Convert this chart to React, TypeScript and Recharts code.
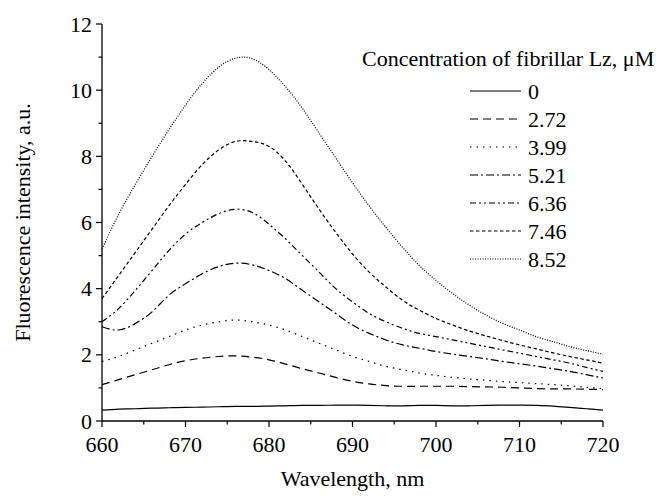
import { Legend, Line, LineChart, XAxis, YAxis } from "recharts";

const FONT = "'Liberation Serif', 'Times New Roman', serif";
const FS = 22;

// wavelength grid, nm
const wavelength = [
  660, 662, 664, 666, 668, 670, 672, 674, 676, 678, 680, 682, 684, 686, 688, 690,
  692, 694, 696, 698, 700, 702, 704, 706, 708, 710, 712, 714, 716, 718, 720,
];

// fluorescence, a.u., one array per fibrillar Lz concentration
const c0 = [
  0.33, 0.36, 0.37, 0.39, 0.4, 0.41, 0.42, 0.43, 0.44, 0.44, 0.45, 0.46, 0.47, 0.47, 0.48, 0.48,
  0.47, 0.46, 0.46, 0.47, 0.47, 0.46, 0.46, 0.47, 0.48, 0.48, 0.47, 0.45, 0.41, 0.37, 0.33,
];
const c272 = [
  1.1, 1.25, 1.4, 1.55, 1.7, 1.82, 1.9, 1.95, 1.97, 1.93, 1.85, 1.72, 1.58, 1.45, 1.32, 1.2,
  1.12, 1.07, 1.05, 1.05, 1.05, 1.05, 1.04, 1.03, 1.02, 1.0, 0.98, 0.97, 0.97, 0.96, 0.95,
];
const c399 = [
  1.8, 1.95, 2.15, 2.35, 2.55, 2.75, 2.9, 3.0, 3.05, 3.0, 2.9, 2.75, 2.55, 2.35, 2.15, 1.95,
  1.8, 1.65, 1.55, 1.45, 1.38, 1.32, 1.27, 1.23, 1.19, 1.16, 1.13, 1.1, 1.06, 1.02, 0.98,
];
const c521 = [
  2.85, 2.75, 2.95, 3.3, 3.8, 4.15, 4.45, 4.67, 4.77, 4.72, 4.55, 4.3, 3.95, 3.6, 3.25, 2.9,
  2.65, 2.45, 2.3, 2.2, 2.1, 2.02, 1.95, 1.88, 1.8, 1.73, 1.66, 1.58, 1.5, 1.4, 1.3,
];
const c636 = [
  3.0, 3.4, 3.95, 4.55, 5.15, 5.65, 6.0, 6.27, 6.4, 6.3, 5.95, 5.5, 5.0, 4.5, 4.0, 3.6,
  3.25, 3.0, 2.8, 2.65, 2.55, 2.45, 2.35, 2.25, 2.15, 2.05, 1.95, 1.85, 1.75, 1.62, 1.5,
];
const c746 = [
  3.7, 4.4, 5.1, 5.8, 6.5, 7.15, 7.75, 8.2, 8.45, 8.45, 8.3, 7.85, 7.15, 6.4, 5.7, 5.05,
  4.5, 4.05, 3.65, 3.35, 3.1, 2.9, 2.72, 2.57, 2.43, 2.3, 2.18, 2.06, 1.95, 1.85, 1.75,
];
const c852 = [
  5.2, 6.25, 7.15, 8.0, 8.8, 9.55, 10.2, 10.7, 10.97, 10.95, 10.62, 10.1, 9.45, 8.7, 7.95, 7.2,
  6.5, 5.85, 5.25, 4.7, 4.25, 3.85, 3.5, 3.2, 2.95, 2.75, 2.55, 2.4, 2.25, 2.13, 2.02,
];

const concLabels = ["0", "2.72", "3.99", "5.21", "6.36", "7.46", "8.52"];
const xTicks = [660, 665, 670, 675, 680, 685, 690, 695, 700, 705, 710, 715, 720];
const yTicks = [0, 1, 2, 3, 4, 5, 6, 7, 8, 9, 10, 11, 12];

const SERIES = [
  { key: "c0", values: c0, dash: undefined },
  { key: "c272", values: c272, dash: "8 5" },
  { key: "c399", values: c399, dash: "1.5 5" },
  { key: "c521", values: c521, dash: "8 3 2 3" },
  { key: "c636", values: c636, dash: "6 3 2 3 2 3" },
  { key: "c746", values: c746, dash: "3.5 2.5" },
  { key: "c852", values: c852, dash: "1 1.5" },
];

const data = wavelength.map((w, i) => {
  const row: Record<string, number> = { w };
  SERIES.forEach((s) => (row[s.key] = s.values[i]));
  return row;
});

// something up the tree keeps overriding the font, so force it on the node
function forceFont(el: SVGTextElement | null) {
  if (!el) return;
  el.style.setProperty("font-family", FONT, "important");
  el.style.setProperty("font-size", FS + "px", "important");
}

function T(props: any) {
  return <text ref={forceFont} fill="#000" fontFamily={FONT} fontSize={FS} {...props} />;
}

function XTick({ x, y, payload }: any) {
  const axisY = y - 10;
  const major = payload.value % 10 === 0;
  return (
    <g>
      <line x1={x} x2={x} y1={axisY} y2={axisY + (major ? 6 : 3.5)} stroke="#000" strokeWidth={1.2} />
      {major && (
        <T x={x} y={axisY + 31} textAnchor="middle">
          {payload.value}
        </T>
      )}
    </g>
  );
}

function YTick({ x, y, payload }: any) {
  const axisX = x + 10;
  const major = payload.value % 2 === 0;
  return (
    <g>
      <line x1={axisX} x2={axisX - (major ? 6 : 3.5)} y1={y} y2={y} stroke="#000" strokeWidth={1.2} />
      {major && (
        <T x={x} y={y + 7.5} textAnchor="end">
          {payload.value}
        </T>
      )}
    </g>
  );
}

function LegendBox() {
  return (
    <svg width={306} height={230} style={{ display: "block" }}>
      <T x={4} y={25.5}>Concentration of fibrillar Lz, μM</T>
      {SERIES.map((s, i) => (
        <g key={s.key}>
          <line
            x1={112}
            x2={163}
            y1={51 + i * 28}
            y2={51 + i * 28}
            stroke="#000"
            strokeWidth={1.2}
            strokeDasharray={s.dash}
          />
          <T x={170} y={58.5 + i * 28}>{concLabels[i]}</T>
        </g>
      ))}
    </svg>
  );
}

export default function App() {
  return (
    <div style={{ position: "absolute", left: 0, top: 0, background: "#fff", fontFamily: FONT }}>
      <LineChart width={667} height={500} data={data} margin={{ top: 24, right: 64, bottom: 29, left: 0 }}>
        <XAxis
          dataKey="w"
          type="number"
          domain={[660, 720]}
          ticks={xTicks}
          interval={0}
          height={50}
          tickSize={6}
          tickMargin={4}
          tickLine={false}
          tick={<XTick />}
          axisLine={{ stroke: "#000", strokeWidth: 1.3 }}
          label={({ viewBox }: any) => (
            <T x={viewBox.x + viewBox.width / 2} y={486} textAnchor="middle">
              Wavelength, nm
            </T>
          )}
        />
        <YAxis
          type="number"
          domain={[0, 12]}
          ticks={yTicks}
          interval={0}
          width={102}
          tickSize={6}
          tickMargin={4}
          tickLine={false}
          tick={<YTick />}
          axisLine={{ stroke: "#000", strokeWidth: 1.3 }}
          label={({ viewBox }: any) => {
            const cy = viewBox.y + viewBox.height / 2;
            return (
              <T x={30} y={cy} transform={`rotate(-90 30 ${cy})`} textAnchor="middle">
                Fluorescence intensity, a.u.
              </T>
            );
          }}
        />
        <Legend
          layout="vertical"
          align="center"
          verticalAlign="middle"
          content={() => <LegendBox />}
          wrapperStyle={{ left: 358, top: 40, width: 306, height: 230 }}
        />
        {SERIES.map((s) => (
          <Line
            key={s.key}
            dataKey={s.key}
            type="natural"
            stroke="#000"
            strokeWidth={1.2}
            strokeDasharray={s.dash}
            dot={false}
            activeDot={false}
            isAnimationActive={false}
          />
        ))}
      </LineChart>
    </div>
  );
}
